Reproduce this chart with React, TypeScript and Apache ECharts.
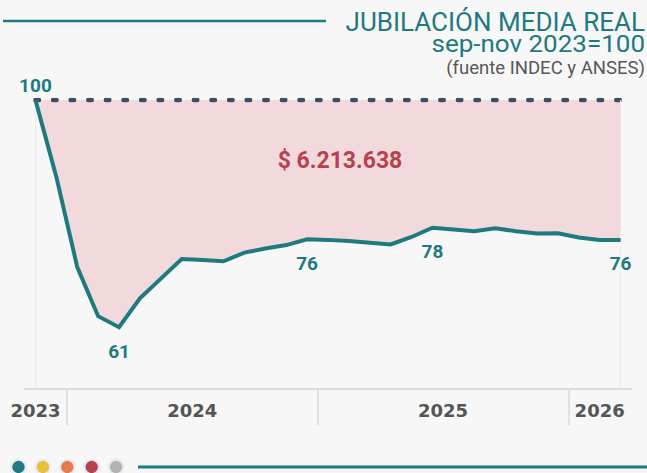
import React, { useEffect, useRef } from "react";
import * as echarts from "echarts";

const months = [
  "nov 2023", "dic 2023",
  "ene 2024", "feb 2024", "mar 2024", "abr 2024", "may 2024", "jun 2024",
  "jul 2024", "ago 2024", "sep 2024", "oct 2024", "nov 2024", "dic 2024",
  "ene 2025", "feb 2025", "mar 2025", "abr 2025", "may 2025", "jun 2025",
  "jul 2025", "ago 2025", "sep 2025", "oct 2025", "nov 2025", "dic 2025",
  "ene 2026", "feb 2026", "mar 2026",
];
const values = [
  100, 86.7, 71.1, 62.6, 60.7, 65.7, 69.1, 72.5, 72.3, 72.1, 73.6, 74.3,
  74.9, 75.9, 75.8, 75.6, 75.3, 75.0, 76.3, 77.9, 77.6, 77.3, 77.8, 77.3,
  76.9, 76.95, 76.2, 75.8, 75.8,
];
const baseline = 100;
const labeledIdx = [0, 4, 13, 19, 28];
const years = ["2023", "2024", "2025", "2026"];
const gapLabel = "$ 6.213.638";
const titleLines = ["JUBILACIÓN MEDIA REAL", "sep-nov 2023=100", "(fuente INDEC y ANSES)"];
const dotColors = ["#1f7a80", "#e8c03a", "#e8794a", "#b9414e", "#b3b3b3"];

const TEAL = "#1f7a80";

export default function App() {
  const ref = useRef<HTMLDivElement>(null);
  useEffect(() => {
    document.body.style.margin = "0";
    const chart = echarts.init(ref.current!, null, { renderer: "svg" });

    // half-month tick axis: 2*N+1 positions
    const half = Array.from({ length: months.length * 2 + 1 }, (_, k) => String(k));
    const yearOf = (m: string) => m.split(" ")[1];
    const janHalf: number[] = [];
    const labelHalf: Record<number, string> = {};
    years.forEach((y) => {
      const idx = months.map((m, i) => (yearOf(m) === y ? i : -1)).filter((i) => i >= 0);
      const first = idx[0];
      const last = idx[idx.length - 1];
      if (months[first].startsWith("ene")) janHalf.push(first * 2);
      const pos = idx.length < 3 ? first * 2 + 1 : first + last + 1;
      labelHalf[pos] = y;
    });

    const option: any = {
      animation: false,
      backgroundColor: "#f7f7f7",
      grid: { left: 25, right: 16, top: 100, bottom: 84 },
      xAxis: [
        {
          type: "category",
          data: months,
          boundaryGap: true,
          position: "bottom",
          axisLine: { show: true, lineStyle: { color: "#dddddd", width: 2 } },
          axisTick: { show: false },
          axisLabel: { show: false },
          splitLine: { show: false },
        },
        {
          type: "category",
          data: half,
          boundaryGap: false,
          position: "bottom",
          offset: 0,
          axisLine: { show: false },
          axisTick: {
            show: true,
            length: 36,
            interval: (i: number) => janHalf.includes(i),
            lineStyle: { color: "#e0e0e0", width: 2 },
          },
          axisLabel: {
            show: true,
            interval: (i: number) => labelHalf[i] !== undefined,
            formatter: (_v: string, i: number) => labelHalf[i] ?? "",
            margin: 12,
            color: "#555555",
            fontFamily: "DejaVu Sans, sans-serif",
            fontWeight: "bold",
            fontSize: 18,
          },
          splitLine: { show: false },
        },
      ],
      yAxis: {
        type: "value",
        min: 50,
        max: 100,
        show: false,
      },
      graphic: [
        {
          type: "line",
          z: 10,
          shape: { x1: 3, y1: 21, x2: 326, y2: 21 },
          style: { stroke: TEAL, lineWidth: 2.5 },
        },
        {
          type: "text",
          z: 10,
          x: 645,
          y: 22,
          style: {
            text: titleLines[0],
            align: "right",
            verticalAlign: "middle",
            fill: TEAL,
            font: "400 26px Roboto, sans-serif",
            lineHeight: 24,
          },
        },
        {
          type: "text",
          z: 10,
          x: 645,
          y: 44,
          scaleX: 1.13,
          style: {
            text: titleLines[1],
            align: "right",
            verticalAlign: "middle",
            fill: TEAL,
            font: "400 23px Roboto, sans-serif",
            lineHeight: 20,
          },
        },
        {
          type: "text",
          z: 10,
          x: 645,
          y: 68,
          scaleX: 1.03,
          style: {
            text: titleLines[2],
            align: "right",
            verticalAlign: "middle",
            fill: "#585858",
            font: "400 18px Roboto, sans-serif",
            lineHeight: 18,
          },
        },
        {
          type: "text",
          z: 10,
          x: 340,
          y: 160,
          style: {
            text: gapLabel,
            align: "center",
            verticalAlign: "middle",
            fill: "#b9414e",
            font: "bold 23px Roboto, sans-serif",
          },
        },
        ...dotColors.flatMap((c, i) => [
          {
            type: "circle",
            z: 10,
            shape: { cx: 18.5 + i * 24.4, cy: 467, r: 8.5 },
            style: { fill: "#ebebf2" },
          },
          {
            type: "circle",
            z: 11,
            shape: { cx: 18.5 + i * 24.4, cy: 467, r: 6.2 },
            style: { fill: c },
          },
        ]),
        {
          type: "line",
          z: 10,
          shape: { x1: 138, y1: 467, x2: 647, y2: 467 },
          style: { stroke: TEAL, lineWidth: 3 },
        },
      ],
      series: [
        {
          type: "line",
          stack: "gap",
          data: values,
          symbol: "none",
          lineStyle: { opacity: 0 },
          silent: true,
          z: 1,
        },
        {
          type: "line",
          stack: "gap",
          data: values.map((v) => baseline - v),
          symbol: "none",
          lineStyle: { opacity: 0 },
          areaStyle: { color: "#f2d9dc", opacity: 1 },
          silent: true,
          z: 1,
          markLine: {
            silent: true,
            symbol: "none",
            label: { show: false },
            lineStyle: { color: "#ececec", width: 1, type: "solid" },
            data: [{ xAxis: 0 }, { xAxis: months.length - 1 }],
          },
        },
        {
          type: "line",
          data: values.map(() => baseline),
          symbol: "none",
          lineStyle: { color: "#3f4d63", width: 4.5, type: [3.5, 14.1], cap: "round" },
          silent: true,
          z: 3,
        },
        {
          type: "line",
          data: values.map((v, i) =>
            labeledIdx.includes(i)
              ? {
                  value: v,
                  label: {
                    show: true,
                    position: i === 0 ? "top" : "bottom",
                    distance: i === 0 ? 5 : 14,
                    formatter: (p: any) => String(Math.round(p.value)),
                    color: TEAL,
                    fontFamily: "Roboto, sans-serif",
                    fontWeight: "bold",
                    fontSize: 19,
                  },
                }
              : v
          ),
          symbol: "circle",
          symbolSize: 1,
          showAllSymbol: true,
          itemStyle: { color: "transparent" },
          lineStyle: { color: TEAL, width: 4, join: "miter" },
          silent: true,
          z: 5,
        },
      ],
    };
    chart.setOption(option);
    return () => chart.dispose();
  }, []);
  return (
    <div
      ref={ref}
      style={{ position: "fixed", left: 0, top: 0, width: 647, height: 473 }}
    />
  );
}
